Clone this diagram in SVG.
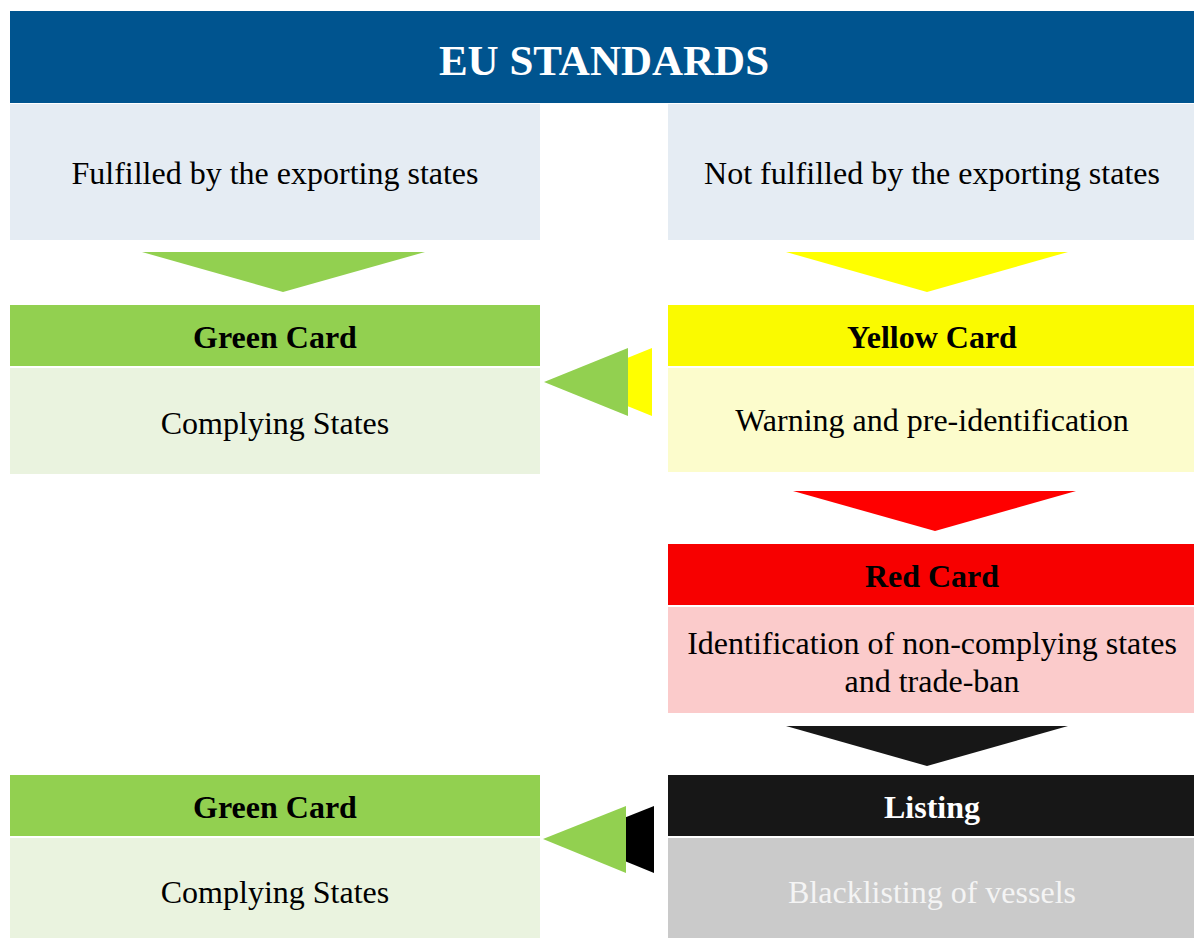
<svg xmlns="http://www.w3.org/2000/svg" width="1194" height="938" viewBox="0 0 1194 938">
  <style>
    text { font-family: "Liberation Serif", "Times New Roman", serif; text-anchor: middle; }
    .body { font-size: 32px; fill: #000; }
    .head { font-size: 32px; font-weight: bold; fill: #000; }
    .title { font-size: 43px; font-weight: bold; fill: #fff; }
  </style>
  <rect width="1194" height="938" fill="#fff"/>

  <g id="eu-standards">
    <rect x="10" y="11" width="1184" height="92" fill="#00548F"/>
    <text class="title" x="604" y="75">EU STANDARDS</text>
  </g>

  <g id="fulfilled">
    <rect x="10" y="104" width="530" height="136" fill="#E5ECF3"/>
    <text class="body" x="275" y="184">Fulfilled by the exporting states</text>
  </g>

  <g id="not-fulfilled">
    <rect x="668" y="104" width="526" height="136" fill="#E5ECF3"/>
    <text class="body" x="932" y="184">Not fulfilled by the exporting states</text>
  </g>

  <g id="green-card-1">
    <rect x="10" y="305" width="530" height="61" fill="#92D050"/>
    <text class="head" x="275" y="348">Green Card</text>
    <rect x="10" y="368" width="530" height="106" fill="#EAF3DF"/>
    <text class="body" x="275" y="434">Complying States</text>
  </g>

  <g id="yellow-card">
    <rect x="668" y="305" width="526" height="61" fill="#FAFA00"/>
    <text class="head" x="932" y="348">Yellow Card</text>
    <rect x="668" y="368" width="526" height="104" fill="#FCFCCC"/>
    <text class="body" x="932" y="431">Warning and pre-identification</text>
  </g>

  <g id="red-card">
    <rect x="668" y="544" width="526" height="61" fill="#F70000"/>
    <text class="head" x="932" y="587">Red Card</text>
    <rect x="668" y="607" width="526" height="106" fill="#FBCBCB"/>
    <text class="body" x="932" y="654">Identification of non-complying states</text>
    <text class="body" x="932" y="692">and trade-ban</text>
  </g>

  <g id="listing">
    <rect x="668" y="775" width="526" height="61" fill="#171717"/>
    <text class="head" x="932" y="818" style="fill:#fff">Listing</text>
    <rect x="668" y="838" width="526" height="100" fill="#CACACA"/>
    <text class="body" x="932" y="903" style="fill:#F4F4F4">Blacklisting of vessels</text>
  </g>

  <g id="green-card-2">
    <rect x="10" y="775" width="530" height="61" fill="#92D050"/>
    <text class="head" x="275" y="818">Green Card</text>
    <rect x="10" y="838" width="530" height="100" fill="#EAF3DF"/>
    <text class="body" x="275" y="903">Complying States</text>
  </g>

  <g id="connectors">
    <!-- downward arrows -->
    <polygon points="142,252 425,252 283,292" fill="#92D050"/>
    <polygon points="786,252 1068,252 927,292" fill="#FFFF00"/>
    <polygon points="793,491 1076,491 935,531" fill="#FF0000"/>
    <polygon points="786,726 1068,726 927,766" fill="#171717"/>
    <!-- leftward arrows: coloured tail behind a green head -->
    <polygon points="652,348 652,416 568,382" fill="#FFFF00"/>
    <polygon points="628,348 628,416 544,382" fill="#92D050"/>
    <polygon points="654,806 654,873 571,839" fill="#000"/>
    <polygon points="626,806 626,873 543,839" fill="#92D050"/>
  </g>
</svg>
